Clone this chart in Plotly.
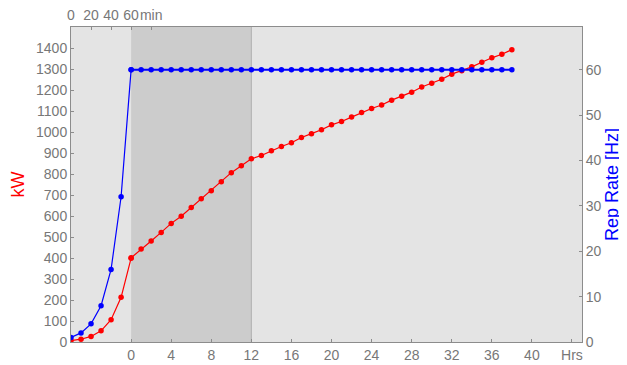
import plotly.graph_objects as go

# ramp-up phase (top axis, minutes)
ramp_min = [0, 10, 20, 30, 40, 50, 60]
ramp_kw = [6.7, 13.3, 26.7, 53.3, 106.7, 213.3, 400]
ramp_hz = [1, 2, 4, 8, 16, 32, 60]

# operating phase (bottom axis, hours)
run_hrs = list(range(0, 39))
run_kw = [402, 444, 482, 523, 566, 600, 642, 684, 722, 765, 808, 841, 874,
          890, 912, 933, 951, 976, 994, 1013, 1036, 1052, 1073, 1095, 1114,
          1131, 1154, 1173, 1192, 1217, 1235, 1254, 1278, 1294, 1313, 1335,
          1356, 1373, 1395]
run_hz = [60] * 39

hrs_ticks = [0, 4, 8, 12, 16, 20, 24, 28, 32, 36, 40, 44]
hrs_text = ['0', '4', '8', '12', '16', '20', '24', '28', '32', '36', '40', 'Hrs']
min_ticks = [0, 20, 40, 60, 80]
min_text = ['0', '20', '40', '60', 'min']
shade_start, shade_end = 0, 12

RED = '#ff0000'
BLUE = '#0000ff'
GRAY = '#777777'
AX = '#8c8c8c'
FONT = 'Liberation Sans, Arial, sans-serif'

fig = go.Figure()
mk = dict(size=5.5)
fig.add_trace(go.Scatter(x=ramp_min, y=ramp_hz, xaxis='x2', yaxis='y2', mode='lines+markers',
                         line=dict(color=BLUE, width=1.2), marker=dict(color=BLUE, **mk)))
fig.add_trace(go.Scatter(x=run_hrs, y=run_hz, xaxis='x', yaxis='y2', mode='lines+markers',
                         line=dict(color=BLUE, width=2), marker=dict(color=BLUE, **mk)))
fig.add_trace(go.Scatter(x=ramp_min, y=ramp_kw, xaxis='x2', yaxis='y', mode='lines+markers',
                         line=dict(color=RED, width=1.2), marker=dict(color=RED, **mk)))
fig.add_trace(go.Scatter(x=run_hrs, y=run_kw, xaxis='x', yaxis='y', mode='lines+markers',
                         line=dict(color=RED, width=1.2), marker=dict(color=RED, **mk)))

fig.add_shape(type='rect', xref='x', yref='paper', x0=shade_start, x1=shade_end, y0=0, y1=1,
              fillcolor='#cccccc', line=dict(width=0), layer='below')
fig.add_shape(type='line', xref='x', yref='paper', x0=shade_end, x1=shade_end, y0=0, y1=1,
              line=dict(color='#b0b0b0', width=1), layer='below')

common = dict(showgrid=False, zeroline=False, showline=True, linecolor=AX, linewidth=1,
              ticks='inside', ticklen=3, tickcolor=AX, automargin=False, tickangle=0,
              tickfont=dict(family=FONT, size=14, color=GRAY))

# page has an 8px body margin, so the figure is sized to fit the 627x365 window
fig.update_layout(
    width=619, height=357,
    margin=dict(l=63, r=45, t=19, b=23),
    paper_bgcolor='white', plot_bgcolor='#e4e4e4',
    showlegend=False,
    font=dict(family=FONT),
    xaxis=dict(range=[-6, 45], tickmode='array', tickvals=hrs_ticks, ticktext=hrs_text,
               **common),
    xaxis2=dict(range=[0, 510], overlaying='x', side='top', anchor='y', tickmode='array',
                tickvals=min_ticks, ticktext=min_text, **common),
    yaxis=dict(range=[0, 1503], tickmode='array', tickvals=list(range(0, 1401, 100)),
               title=dict(text='kW', font=dict(family=FONT, size=18, color=RED), standoff=6),
               **common),
    yaxis2=dict(range=[0, 69.4], overlaying='y', side='right', anchor='x', tickmode='array',
                tickvals=list(range(0, 61, 10)),
                title=dict(text='Rep Rate [Hz]', font=dict(family=FONT, size=18, color=BLUE), standoff=0),
                **common),
)

fig.write_html('out.html')
